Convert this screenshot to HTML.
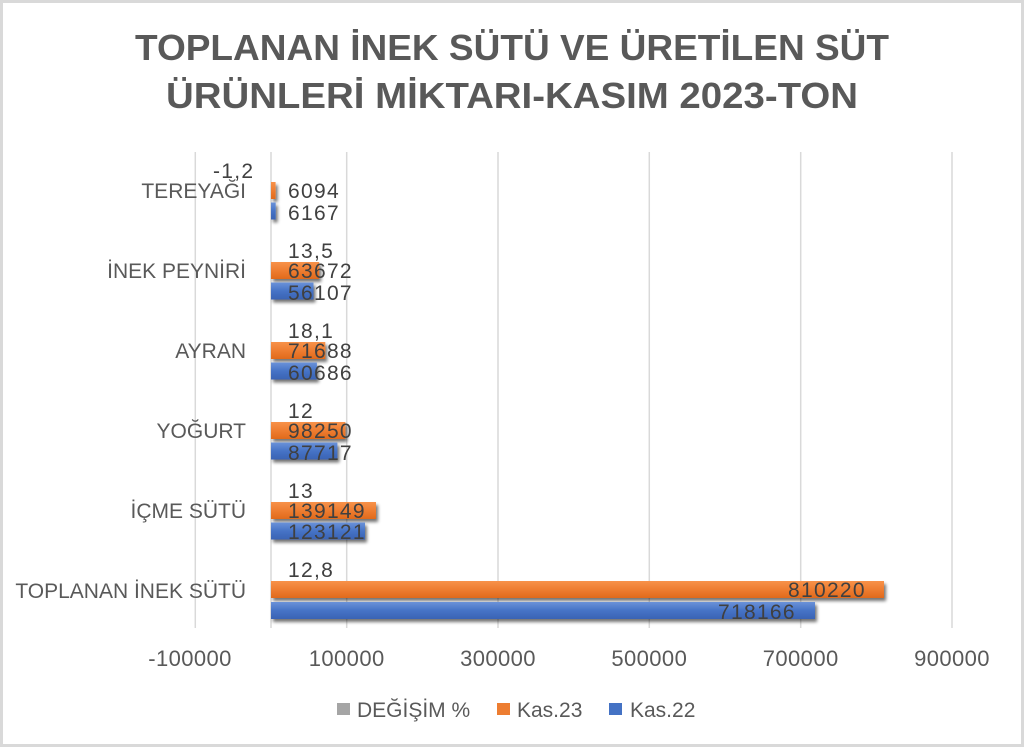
<!DOCTYPE html>
<html><head><meta charset="utf-8"><style>
html,body{margin:0;padding:0;background:#fff;}
svg{display:block;}
text{font-family:"Liberation Sans",Arial,sans-serif;}
</style></head><body>
<svg width="1024" height="747" viewBox="0 0 1024 747" xmlns="http://www.w3.org/2000/svg">
<defs>
<linearGradient id="og" x1="0" y1="0" x2="0" y2="1">
<stop offset="0" stop-color="#f7924a"/><stop offset="0.5" stop-color="#ee7d31"/><stop offset="1" stop-color="#e06a1c"/>
</linearGradient>
<linearGradient id="bg" x1="0" y1="0" x2="0" y2="1">
<stop offset="0" stop-color="#6a92d8"/><stop offset="0.5" stop-color="#4673c6"/><stop offset="1" stop-color="#3a63b4"/>
</linearGradient>
<filter id="sh" x="-10%" y="-50%" width="130%" height="250%">
<feGaussianBlur in="SourceAlpha" stdDeviation="1.6"/>
<feOffset dx="2" dy="3" result="o"/>
<feComponentTransfer><feFuncA type="linear" slope="0.55"/></feComponentTransfer>
<feMerge><feMergeNode/><feMergeNode in="SourceGraphic"/></feMerge>
</filter>
</defs>
<rect x="0" y="0" width="1024" height="747" fill="#d9d9d9"/>
<rect x="3" y="3" width="1018" height="741" fill="#ffffff"/>

<!-- title -->
<text x="135" y="60" font-size="36" font-weight="bold" fill="#595959" textLength="754" lengthAdjust="spacingAndGlyphs">TOPLANAN İNEK SÜTÜ VE ÜRETİLEN SÜT</text>
<text x="166" y="108" font-size="36" font-weight="bold" fill="#595959" textLength="692" lengthAdjust="spacingAndGlyphs">ÜRÜNLERİ MİKTARI-KASIM 2023-TON</text>

<!-- gridlines -->
<g stroke="#d9d9d9" stroke-width="1.5">
<line x1="195.3" y1="152" x2="195.3" y2="628"/>
<line x1="346.7" y1="152" x2="346.7" y2="628"/>
<line x1="498" y1="152" x2="498" y2="628"/>
<line x1="649.3" y1="152" x2="649.3" y2="628"/>
<line x1="800.7" y1="152" x2="800.7" y2="628"/>
<line x1="952" y1="152" x2="952" y2="628"/>
<line x1="271" y1="152" x2="271" y2="628"/>
</g>

<!-- bars -->
<g filter="url(#sh)">
<rect x="271" y="182" width="4.6" height="17" fill="url(#og)"/>
<rect x="271" y="202.5" width="4.7" height="17" fill="url(#bg)"/>
<rect x="271" y="262" width="48.2" height="17" fill="url(#og)"/>
<rect x="271" y="282.5" width="42.5" height="17" fill="url(#bg)"/>
<rect x="271" y="342" width="54.3" height="17" fill="url(#og)"/>
<rect x="271" y="362.5" width="45.9" height="17" fill="url(#bg)"/>
<rect x="271" y="422" width="74.4" height="17" fill="url(#og)"/>
<rect x="271" y="442.5" width="66.4" height="17" fill="url(#bg)"/>
<rect x="271" y="502" width="105" height="17" fill="url(#og)"/>
<rect x="271" y="522.5" width="94" height="17" fill="url(#bg)"/>
<rect x="271" y="581" width="613" height="17" fill="url(#og)"/>
<rect x="271" y="602" width="544" height="17" fill="url(#bg)"/>
</g>

<!-- category labels -->
<g font-size="21" fill="#595959" text-anchor="end">
<text x="246" y="198">TEREYAĞI</text>
<text x="246" y="278">İNEK PEYNİRİ</text>
<text x="246" y="358">AYRAN</text>
<text x="246" y="438">YOĞURT</text>
<text x="246" y="518">İÇME SÜTÜ</text>
<text x="246" y="598">TOPLANAN İNEK SÜTÜ</text>
</g>

<!-- data labels -->
<g font-size="21" fill="#404040" letter-spacing="1.3">
<text x="213" y="178">-1,2</text>
<text x="288" y="198">6094</text>
<text x="288" y="220">6167</text>
<text x="288" y="258">13,5</text>
<text x="288" y="278">63672</text>
<text x="288" y="300">56107</text>
<text x="288" y="338">18,1</text>
<text x="288" y="358">71688</text>
<text x="288" y="380">60686</text>
<text x="288" y="418">12</text>
<text x="288" y="438">98250</text>
<text x="288" y="460">87717</text>
<text x="288" y="498">13</text>
<text x="288" y="518">139149</text>
<text x="288" y="539">123121</text>
<text x="288" y="577">12,8</text>
<text x="788" y="597">810220</text>
<text x="718" y="619">718166</text>
</g>

<!-- axis labels -->
<g font-size="22" fill="#595959" text-anchor="middle" letter-spacing="0.4">
<text x="190" y="666">-100000</text>
<text x="346.7" y="666">100000</text>
<text x="498" y="666">300000</text>
<text x="649.3" y="666">500000</text>
<text x="800.7" y="666">700000</text>
<text x="952" y="666">900000</text>
</g>

<!-- legend -->
<rect x="337" y="703" width="13" height="12" fill="#a5a5a5"/>
<rect x="497" y="703" width="13" height="12" fill="#ed7d31"/>
<rect x="609" y="703" width="13" height="12" fill="#4472c4"/>
<g font-size="21" fill="#595959">
<text x="357" y="717">DEĞİŞİM %</text>
<text x="517" y="717">Kas.23</text>
<text x="630" y="717">Kas.22</text>
</g>
</svg>
</body></html>
